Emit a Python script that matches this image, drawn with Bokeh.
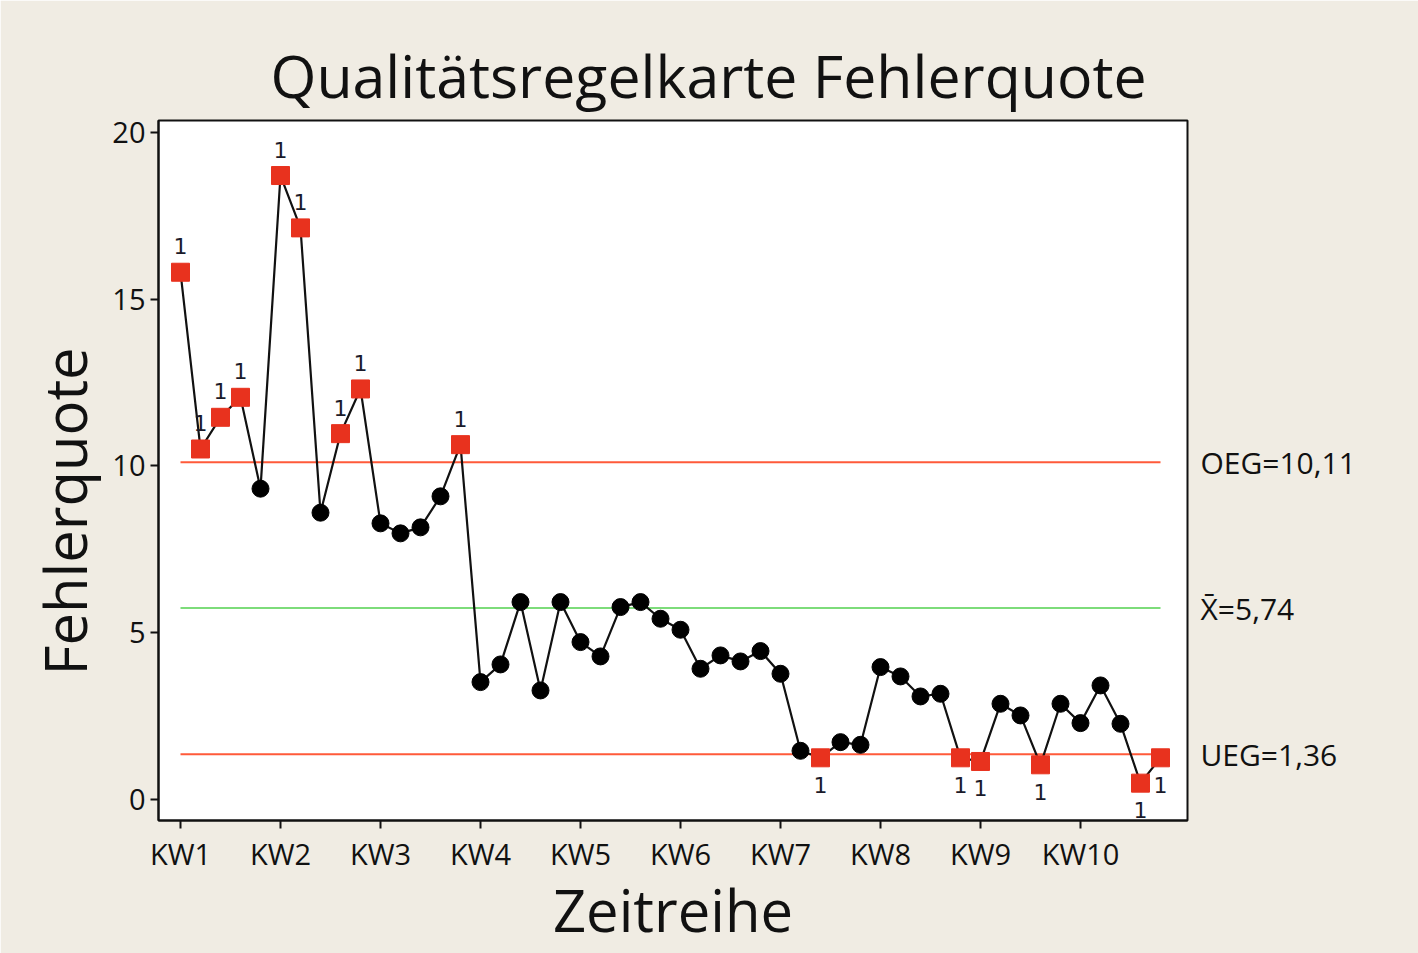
from bokeh.plotting import figure
from bokeh.models import FixedTicker, ColumnDataSource, Range1d, LinearAxis, Title
from bokeh.core.properties import value
from bokeh.embed import file_html
from bokeh.resources import INLINE

# ---- data ----
samples = list(range(1, 51))
fehlerquote = [15.81, 10.51, 11.46, 12.06, 9.32, 18.71, 17.14, 8.60, 10.97, 12.31,
               8.28, 7.98, 8.16, 9.09, 10.64, 3.52, 4.05, 5.92, 3.27, 5.92,
               4.72, 4.29, 5.77, 5.92, 5.42, 5.09, 3.92, 4.32, 4.14, 4.45,
               3.77, 1.46, 1.25, 1.72, 1.64, 3.97, 3.69, 3.09, 3.17, 1.25,
               1.14, 2.87, 2.52, 1.04, 2.87, 2.29, 3.42, 2.27, 0.49, 1.25]
oeg = 10.11
mittelwert = 5.74
ueg = 1.36
limit_labels = ["OEG=10,11", "X\u0304=5,74", "UEG=1,36"]
week_ticks = [1, 6, 11, 16, 21, 26, 31, 36, 41, 46]
week_labels = ["KW1", "KW2", "KW3", "KW4", "KW5", "KW6", "KW7", "KW8", "KW9", "KW10"]
y_ticks = [0, 5, 10, 15, 20]

FONT = "Open Sans"
BG = "#f0ece3"
INK = "#111111"

W, H = 1418, 953
FL, FR, FT, FB = 158, 1187, 120, 820  # frame edges in figure px

x0, x1 = -0.1, 51.35
y0, y1 = -0.63, 20.36

p = figure(width=W, height=H, output_backend="svg", toolbar_location=None,
           x_range=Range1d(x0, x1), y_range=Range1d(y0, y1),
           min_border_left=FL, min_border_right=W - FR,
           min_border_top=FT, min_border_bottom=H - FB)
p.background_fill_color = "white"
p.border_fill_color = BG
p.outline_line_color = INK
p.outline_line_width = 2
p.grid.visible = False

# title (left-aligned with offset so that it is centred on the page)
p.title.text = "Qualitätsregelkarte Fehlerquote"
p.title.align = "left"
p.title.offset = 112
p.title.text_font = FONT
p.title.text_font_size = "59px"
p.title.text_font_style = "normal"
p.title.text_color = INK
p.title.standoff = 11

# axes
p.xaxis.ticker = FixedTicker(ticks=week_ticks)
p.xaxis.major_label_overrides = {t: l for t, l in zip(week_ticks, week_labels)}
p.yaxis.ticker = FixedTicker(ticks=y_ticks)
for ax in (p.xaxis, p.yaxis):
    ax.axis_line_color = INK
    ax.axis_line_width = 2
    ax.major_tick_line_color = INK
    ax.major_tick_line_width = 2
    ax.major_tick_out = 8
    ax.major_tick_in = 0
    ax.minor_tick_line_color = None
    ax.major_label_text_font = FONT
    ax.major_label_text_font_size = "29px"
    ax.major_label_text_color = INK
    ax.major_label_standoff = 5

p.xaxis.axis_label = "Zeitreihe"
p.xaxis.axis_label_text_font = FONT
p.xaxis.axis_label_text_font_size = "58px"
p.xaxis.axis_label_text_font_style = "normal"
p.xaxis.axis_label_text_color = INK
p.xaxis.axis_label_standoff = -6

# y label as a side title so it can be shifted along the axis
ytitle = Title(text="Fehlerquote", align="left", offset=145,
               text_font=FONT, text_font_size="58px", text_font_style="normal",
               text_color=INK, standoff=12)
p.add_layout(ytitle, "left")

# right-hand limit labels as an extra axis
rax = LinearAxis(ticker=FixedTicker(ticks=[oeg, mittelwert, ueg]),
                 major_label_overrides={oeg: limit_labels[0],
                                        mittelwert: limit_labels[1],
                                        ueg: limit_labels[2]})
rax.axis_line_color = None
rax.major_tick_line_color = None
rax.minor_tick_line_color = None
rax.major_tick_out = 0
rax.major_tick_in = 0
rax.major_label_standoff = 13
rax.major_label_text_font = FONT
rax.major_label_text_font_size = "30px"
rax.major_label_text_color = INK
p.add_layout(rax, "right")

# control limits
p.line([1, 50], [oeg, oeg], line_color="#ff5a3a", line_width=2)
p.line([1, 50], [mittelwert, mittelwert], line_color="#7ddc7a", line_width=2)
p.line([1, 50], [ueg, ueg], line_color="#ff5a3a", line_width=2)

# data line
p.line(samples, fehlerquote, line_color=INK, line_width=2.2)

is_out = [v > oeg or v < ueg for v in fehlerquote]
p.scatter([s for s, o in zip(samples, is_out) if not o],
          [v for v, o in zip(fehlerquote, is_out) if not o],
          marker="circle", size=17, fill_color="#000000", line_color="#000000")
p.scatter([s for s, o in zip(samples, is_out) if o],
          [v for v, o in zip(fehlerquote, is_out) if o],
          marker="square", size=18, fill_color="#e8321e", line_color="#e8321e")

hi_x = [s for s, v in zip(samples, fehlerquote) if v > oeg]
hi_y = [v for v in fehlerquote if v > oeg]
lo_x = [s for s, v in zip(samples, fehlerquote) if v < ueg]
lo_y = [v for v in fehlerquote if v < ueg]
hi = ColumnDataSource(dict(x=hi_x, y=hi_y, t=["1"] * len(hi_x)))
lo = ColumnDataSource(dict(x=lo_x, y=lo_y, t=["1"] * len(lo_x)))
for src, off in ((hi, -26), (lo, 27)):
    p.text(x="x", y="y", text="t", source=src, y_offset=off,
           text_align="center", text_baseline="middle",
           text_font=value("DejaVu Sans"), text_font_size="22px", text_color="#1a1a2a")

open("out.html", "w").write(file_html(p, INLINE))
